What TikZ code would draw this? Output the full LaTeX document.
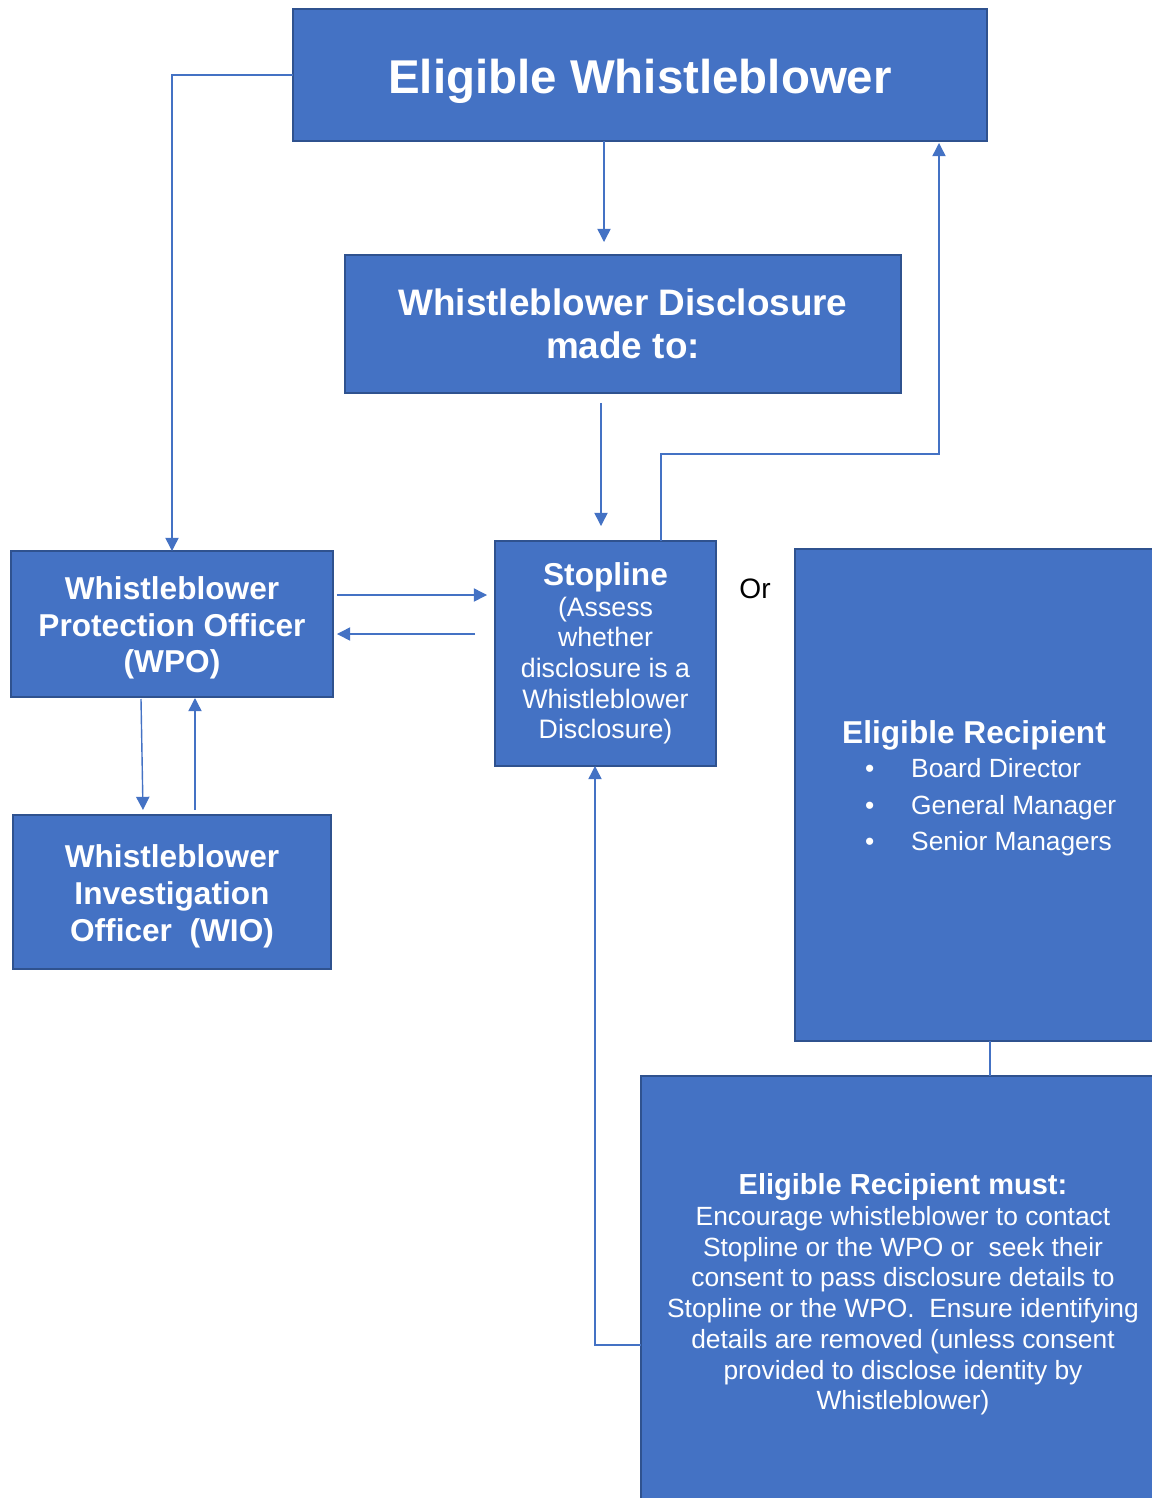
\documentclass[tikz,border=0pt]{standalone}
\usepackage{fontspec}
\setmainfont{Liberation Sans}
\usetikzlibrary{arrows.meta,calc}
\definecolor{boxblue}{HTML}{4472C4}
\definecolor{boxedge}{HTML}{2F528F}
\tikzstyle{box} = [align=center,draw=boxedge,fill=boxblue,line width=1.1pt,rectangle,text=white,inner sep=0pt,outer sep=0pt,text centered]
\tikzstyle{conn} = [draw=boxblue,line width=0.8pt,-{Triangle[length=7.5pt,width=7.5pt]}]
\tikzstyle{link} = [draw=boxblue,line width=0.8pt]

\begin{document}
\begin{tikzpicture}[x=0.02cm,y=-0.02cm]
				\useasboundingbox (0,0) rectangle (1152,1498);
				\clip (0,0) rectangle (1152,1498);
				\node (ew) [box,minimum width=13.88cm,minimum height=2.64cm,font=\bfseries\fontsize{27}{31}\selectfont] at (640,75) {\rule{0pt}{26.5pt}Eligible Whistleblower};
				\node (wd) [box,minimum width=11.12cm,minimum height=2.76cm,font=\bfseries\fontsize{21}{24.4}\selectfont] at (623,324) {Whistleblower Disclosure\\made to:};
				\node (stop) [box,minimum width=4.42cm,minimum height=4.5cm,font=\fontsize{15.2}{17.4}\selectfont] at (605.5,653.5) {{\bfseries\fontsize{18}{19.5}\selectfont Stopline}\\(Assess\\whether\\disclosure is a\\Whistleblower\\Disclosure)};
				\node (wpo) [box,minimum width=6.44cm,minimum height=2.92cm,font=\bfseries\fontsize{18}{21}\selectfont] at (172,624) {\rule{0pt}{17.5pt}Whistleblower\\Protection Officer\\(WPO)};
				\node (wio) [box,minimum width=6.36cm,minimum height=3.08cm,font=\bfseries\fontsize{18}{21}\selectfont] at (172,892) {\rule{0pt}{17.5pt}Whistleblower\\Investigation\\Officer~~(WIO)};
				\node (or) [font=\fontsize{16}{19}\selectfont] at (755,589) {Or};
				\node (er) [box,minimum width=7.16cm,minimum height=9.84cm,font=\fontsize{15}{21}\selectfont] at (974,795) {\begin{tabular}{@{}c@{}}{\bfseries\fontsize{18}{21}\selectfont Eligible Recipient}\\[-2pt]
					\begin{tabular}{@{\hspace{19pt}}l@{\hspace{21pt}}l@{}}
					\textbullet & Board Director\\
					\textbullet & General Manager\\
					\textbullet & Senior Managers\rule[-12pt]{0pt}{1pt}
					\end{tabular}\end{tabular}};
				\node (erm) [box,minimum width=10.48cm,minimum height=8.6cm,font=\fontsize{15}{17.5}\selectfont] at (903,1291) {{\bfseries\fontsize{16.5}{18}\selectfont\rule{0pt}{16pt}Eligible Recipient must:}\\Encourage whistleblower to contact\\Stopline or the WPO or~ seek their\\consent to pass disclosure details to\\Stopline or the WPO.~ Ensure identifying\\details are removed (unless consent\\provided to disclose identity by\\Whistleblower)};
				\draw [conn] (ew.west) -| (wpo.north);
				\draw [conn] ($(ew.south)+(-36,0)$) -- ($(wd.north)+(-19,-13)$);
				\draw [conn] ($(wd.south)+(-22,10)$) -- ($(stop.north)+(-4.5,-15)$);
				\draw [conn] ($(stop.north)+(55.5,0)$) -- ++(0,-87) -| ($(ew.south)+(299,2)$);
				\draw [conn] ($(wpo.east)+(4,-29)$) -- ($(stop.west)+(-8,-58.5)$);
				\draw [conn] ($(stop.west)+(-20,-19.5)$) -- ($(wpo.east)+(4,10)$);
				\draw [conn] ($(wpo.south)+(-31,2)$) -- ($(wio.north)+(-29,-5)$);
				\draw [conn] ($(wio.north)+(23,-5)$) -- ($(wpo.south)+(23,1)$);
				\draw [link] ($(er.south)+(16,0)$) -- ($(erm.north)+(87,0)$);
				\draw [conn] ($(erm.west)+(0,54)$) -| ($(stop.south)+(-10.5,0)$);
			\end{tikzpicture}
\end{document}
